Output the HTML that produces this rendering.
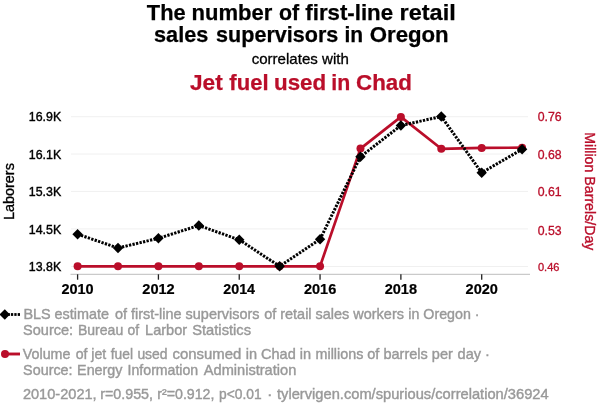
<!DOCTYPE html><html><head><meta charset="utf-8"><style>html,body{margin:0;padding:0;background:#fff}svg{display:block;will-change:transform}text{font-family:"Liberation Sans",sans-serif}</style></head><body>
<svg width="600" height="414" viewBox="0 0 600 414">
<rect width="600" height="414" fill="#fff"/>
<line x1="71" x2="528" y1="116.7" y2="116.7" stroke="#f0f0f0" stroke-width="1"/>
<line x1="71" x2="528" y1="154.0" y2="154.0" stroke="#f0f0f0" stroke-width="1"/>
<line x1="71" x2="528" y1="191.4" y2="191.4" stroke="#f0f0f0" stroke-width="1"/>
<line x1="71" x2="528" y1="228.9" y2="228.9" stroke="#f0f0f0" stroke-width="1"/>
<line x1="71" x2="528" y1="266.5" y2="266.5" stroke="#f0f0f0" stroke-width="1"/>
<line x1="70.5" x2="530" y1="274.3" y2="274.3" stroke="#bdbdbd" stroke-width="1"/>
<line x1="77.6" x2="77.6" y1="274.3" y2="279.7" stroke="#222" stroke-width="1.3"/>
<line x1="158.42" x2="158.42" y1="274.3" y2="279.7" stroke="#222" stroke-width="1.3"/>
<line x1="239.24" x2="239.24" y1="274.3" y2="279.7" stroke="#222" stroke-width="1.3"/>
<line x1="320.06" x2="320.06" y1="274.3" y2="279.7" stroke="#222" stroke-width="1.3"/>
<line x1="400.88" x2="400.88" y1="274.3" y2="279.7" stroke="#222" stroke-width="1.3"/>
<line x1="481.7" x2="481.7" y1="274.3" y2="279.7" stroke="#222" stroke-width="1.3"/>
<text id="t1_0" x="146.85" y="20.4" font-size="22.2" font-weight="bold" fill="#000" stroke="#000" stroke-width="0.25" textLength="38.84" lengthAdjust="spacingAndGlyphs">The</text>
<text id="t1_1" x="191.61" y="20.4" font-size="22.2" font-weight="bold" fill="#000" stroke="#000" stroke-width="0.25" textLength="80.80" lengthAdjust="spacingAndGlyphs">number</text>
<text id="t1_2" x="279.09" y="20.4" font-size="22.2" font-weight="bold" fill="#000" stroke="#000" stroke-width="0.25" textLength="20.15" lengthAdjust="spacingAndGlyphs">of</text>
<text id="t1_3" x="305.32" y="20.4" font-size="22.2" font-weight="bold" fill="#000" stroke="#000" stroke-width="0.25" textLength="87.76" lengthAdjust="spacingAndGlyphs">first-line</text>
<text id="t1_4" x="399.58" y="20.4" font-size="22.2" font-weight="bold" fill="#000" stroke="#000" stroke-width="0.25" textLength="56.14" lengthAdjust="spacingAndGlyphs">retail</text>
<text id="t2_0" x="154.09" y="42.0" font-size="22.2" font-weight="bold" fill="#000" stroke="#000" stroke-width="0.25" textLength="54.21" lengthAdjust="spacingAndGlyphs">sales</text>
<text id="t2_1" x="216.07" y="42.0" font-size="22.2" font-weight="bold" fill="#000" stroke="#000" stroke-width="0.25" textLength="122.23" lengthAdjust="spacingAndGlyphs">supervisors</text>
<text id="t2_2" x="344.53" y="42.0" font-size="22.2" font-weight="bold" fill="#000" stroke="#000" stroke-width="0.25" textLength="18.65" lengthAdjust="spacingAndGlyphs">in</text>
<text id="t2_3" x="369.73" y="42.0" font-size="22.2" font-weight="bold" fill="#000" stroke="#000" stroke-width="0.25" textLength="78.98" lengthAdjust="spacingAndGlyphs">Oregon</text>
<text id="corr" x="251.67" y="63.6" font-size="14.8" font-weight="normal" fill="#000" stroke="#000" stroke-width="0.3" textLength="97.16" lengthAdjust="spacingAndGlyphs">correlates with</text>
<text id="jet_0" x="189.99" y="90.4" font-size="22" font-weight="bold" fill="#ba0e2a" stroke="#ba0e2a" stroke-width="0.25" textLength="32.71" lengthAdjust="spacingAndGlyphs">Jet</text>
<text id="jet_1" x="229.38" y="90.4" font-size="22" font-weight="bold" fill="#ba0e2a" stroke="#ba0e2a" stroke-width="0.25" textLength="39.21" lengthAdjust="spacingAndGlyphs">fuel</text>
<text id="jet_2" x="273.99" y="90.4" font-size="22" font-weight="bold" fill="#ba0e2a" stroke="#ba0e2a" stroke-width="0.25" textLength="52.16" lengthAdjust="spacingAndGlyphs">used</text>
<text id="jet_3" x="331.35" y="90.4" font-size="22" font-weight="bold" fill="#ba0e2a" stroke="#ba0e2a" stroke-width="0.25" textLength="18.94" lengthAdjust="spacingAndGlyphs">in</text>
<text id="jet_4" x="356.07" y="90.4" font-size="22" font-weight="bold" fill="#ba0e2a" stroke="#ba0e2a" stroke-width="0.25" textLength="55.79" lengthAdjust="spacingAndGlyphs">Chad</text>
<text id="leg1_0" x="23.40" y="319.4" font-size="14.5" font-weight="normal" fill="#999999" stroke="#999999" stroke-width="0.4" textLength="85.66" lengthAdjust="spacingAndGlyphs">BLS estimate</text>
<text id="leg1_1" x="114.96" y="319.4" font-size="14.5" font-weight="normal" fill="#999999" stroke="#999999" stroke-width="0.4" textLength="144.51" lengthAdjust="spacingAndGlyphs">of first-line supervisors</text>
<text id="leg1_2" x="264.19" y="319.4" font-size="14.5" font-weight="normal" fill="#999999" stroke="#999999" stroke-width="0.4" textLength="139.73" lengthAdjust="spacingAndGlyphs">of retail sales workers</text>
<text id="leg1_3" x="408.33" y="319.4" font-size="14.5" font-weight="normal" fill="#999999" stroke="#999999" stroke-width="0.4" textLength="71.21" lengthAdjust="spacingAndGlyphs">in Oregon ·</text>
<text id="leg2_0" x="23.12" y="335.4" font-size="14.5" font-weight="normal" fill="#999999" stroke="#999999" stroke-width="0.4" textLength="50.05" lengthAdjust="spacingAndGlyphs">Source:</text>
<text id="leg2_1" x="77.95" y="335.4" font-size="14.5" font-weight="normal" fill="#999999" stroke="#999999" stroke-width="0.4" textLength="45.28" lengthAdjust="spacingAndGlyphs">Bureau</text>
<text id="leg2_2" x="127.47" y="335.4" font-size="14.5" font-weight="normal" fill="#999999" stroke="#999999" stroke-width="0.4" textLength="11.58" lengthAdjust="spacingAndGlyphs">of</text>
<text id="leg2_3" x="145.10" y="335.4" font-size="14.5" font-weight="normal" fill="#999999" stroke="#999999" stroke-width="0.4" textLength="42.05" lengthAdjust="spacingAndGlyphs">Larbor</text>
<text id="leg2_4" x="192.19" y="335.4" font-size="14.5" font-weight="normal" fill="#999999" stroke="#999999" stroke-width="0.4" textLength="58.89" lengthAdjust="spacingAndGlyphs">Statistics</text>
<text id="leg3_0" x="22.81" y="359.3" font-size="14.5" font-weight="normal" fill="#999999" stroke="#999999" stroke-width="0.4" textLength="47.67" lengthAdjust="spacingAndGlyphs">Volume</text>
<text id="leg3_1" x="75.64" y="359.3" font-size="14.5" font-weight="normal" fill="#999999" stroke="#999999" stroke-width="0.4" textLength="30.58" lengthAdjust="spacingAndGlyphs">of jet</text>
<text id="leg3_2" x="110.80" y="359.3" font-size="14.5" font-weight="normal" fill="#999999" stroke="#999999" stroke-width="0.4" textLength="22.22" lengthAdjust="spacingAndGlyphs">fuel</text>
<text id="leg3_3" x="137.38" y="359.3" font-size="14.5" font-weight="normal" fill="#999999" stroke="#999999" stroke-width="0.4" textLength="30.18" lengthAdjust="spacingAndGlyphs">used</text>
<text id="leg3_4" x="172.51" y="359.3" font-size="14.5" font-weight="normal" fill="#999999" stroke="#999999" stroke-width="0.4" textLength="68.80" lengthAdjust="spacingAndGlyphs">consumed</text>
<text id="leg3_5" x="245.66" y="359.3" font-size="14.5" font-weight="normal" fill="#999999" stroke="#999999" stroke-width="0.4" textLength="65.42" lengthAdjust="spacingAndGlyphs">in Chad in</text>
<text id="leg3_6" x="315.62" y="359.3" font-size="14.5" font-weight="normal" fill="#999999" stroke="#999999" stroke-width="0.4" textLength="47.67" lengthAdjust="spacingAndGlyphs">millions</text>
<text id="leg3_7" x="367.31" y="359.3" font-size="14.5" font-weight="normal" fill="#999999" stroke="#999999" stroke-width="0.4" textLength="85.55" lengthAdjust="spacingAndGlyphs">of barrels per</text>
<text id="leg3_8" x="457.58" y="359.3" font-size="14.5" font-weight="normal" fill="#999999" stroke="#999999" stroke-width="0.4" textLength="32.38" lengthAdjust="spacingAndGlyphs">day ·</text>
<text id="leg4_0" x="23.12" y="375.3" font-size="14.5" font-weight="normal" fill="#999999" stroke="#999999" stroke-width="0.4" textLength="49.44" lengthAdjust="spacingAndGlyphs">Source:</text>
<text id="leg4_1" x="77.12" y="375.3" font-size="14.5" font-weight="normal" fill="#999999" stroke="#999999" stroke-width="0.4" textLength="45.36" lengthAdjust="spacingAndGlyphs">Energy</text>
<text id="leg4_2" x="127.58" y="375.3" font-size="14.5" font-weight="normal" fill="#999999" stroke="#999999" stroke-width="0.4" textLength="70.65" lengthAdjust="spacingAndGlyphs">Information</text>
<text id="leg4_3" x="203.80" y="375.3" font-size="14.5" font-weight="normal" fill="#999999" stroke="#999999" stroke-width="0.4" textLength="92.47" lengthAdjust="spacingAndGlyphs">Administration</text>
<text id="foot_0" x="22.93" y="398.5" font-size="14.5" font-weight="normal" fill="#999999" stroke="#999999" stroke-width="0.4" textLength="73.71" lengthAdjust="spacingAndGlyphs">2010-2021,</text>
<text id="foot_1" x="100.24" y="398.5" font-size="14.5" font-weight="normal" fill="#999999" stroke="#999999" stroke-width="0.4" textLength="52.79" lengthAdjust="spacingAndGlyphs">r=0.955,</text>
<text id="foot_2" x="157.28" y="398.5" font-size="14.5" font-weight="normal" fill="#999999" stroke="#999999" stroke-width="0.4" textLength="57.18" lengthAdjust="spacingAndGlyphs">r²=0.912,</text>
<text id="foot_3" x="219.00" y="398.5" font-size="14.5" font-weight="normal" fill="#999999" stroke="#999999" stroke-width="0.4" textLength="42.56" lengthAdjust="spacingAndGlyphs">p&lt;0.01</text>
<text id="foot_4" x="266.90" y="398.5" font-size="14.5" font-weight="normal" fill="#999999" stroke="#999999" stroke-width="0.4" textLength="5.52" lengthAdjust="spacingAndGlyphs">·</text>
<text id="foot_5" x="277.02" y="398.5" font-size="14.5" font-weight="normal" fill="#999999" stroke="#999999" stroke-width="0.4" textLength="271.64" lengthAdjust="spacingAndGlyphs">tylervigen.com/spurious/correlation/36924</text>
<text id="l16.9K" x="28.84" y="121.2" font-size="12.6" font-weight="normal" fill="#000" stroke="#000" stroke-width="0.4" textLength="32.37" lengthAdjust="spacingAndGlyphs">16.9K</text>
<text id="l16.1K" x="28.84" y="158.5" font-size="12.6" font-weight="normal" fill="#000" stroke="#000" stroke-width="0.4" textLength="32.37" lengthAdjust="spacingAndGlyphs">16.1K</text>
<text id="l15.3K" x="28.84" y="195.9" font-size="12.6" font-weight="normal" fill="#000" stroke="#000" stroke-width="0.4" textLength="32.37" lengthAdjust="spacingAndGlyphs">15.3K</text>
<text id="l14.5K" x="28.84" y="234.4" font-size="12.6" font-weight="normal" fill="#000" stroke="#000" stroke-width="0.4" textLength="32.37" lengthAdjust="spacingAndGlyphs">14.5K</text>
<text id="l13.8K" x="28.84" y="271.0" font-size="12.6" font-weight="normal" fill="#000" stroke="#000" stroke-width="0.4" textLength="32.37" lengthAdjust="spacingAndGlyphs">13.8K</text>
<text id="r0.76" x="537.72" y="121.2" font-size="12.4" font-weight="normal" fill="#ba0e2a" stroke="#ba0e2a" stroke-width="0.3" textLength="23.99" lengthAdjust="spacingAndGlyphs">0.76</text>
<text id="r0.68" x="537.72" y="159.4" font-size="12.4" font-weight="normal" fill="#ba0e2a" stroke="#ba0e2a" stroke-width="0.3" textLength="23.86" lengthAdjust="spacingAndGlyphs">0.68</text>
<text id="r0.61" x="537.72" y="196.4" font-size="12.4" font-weight="normal" fill="#ba0e2a" stroke="#ba0e2a" stroke-width="0.3" textLength="23.99" lengthAdjust="spacingAndGlyphs">0.61</text>
<text id="r0.53" x="537.73" y="234.5" font-size="12.4" font-weight="normal" fill="#ba0e2a" stroke="#ba0e2a" stroke-width="0.3" textLength="23.91" lengthAdjust="spacingAndGlyphs">0.53</text>
<text id="r0.46" x="537.94" y="270.9" font-size="11.2" font-weight="normal" fill="#ba0e2a" stroke="#ba0e2a" stroke-width="0.3" textLength="21.55" lengthAdjust="spacingAndGlyphs">0.46</text>
<text id="x0" x="61.41" y="294.0" font-size="14" font-weight="bold" fill="#000" stroke="#000" stroke-width="0.2" textLength="32.26" lengthAdjust="spacingAndGlyphs">2010</text>
<text id="x2" x="142.31" y="294.0" font-size="14" font-weight="bold" fill="#000" stroke="#000" stroke-width="0.2" textLength="32.45" lengthAdjust="spacingAndGlyphs">2012</text>
<text id="x4" x="223.24" y="294.0" font-size="14" font-weight="bold" fill="#000" stroke="#000" stroke-width="0.2" textLength="31.81" lengthAdjust="spacingAndGlyphs">2014</text>
<text id="x6" x="304.00" y="294.0" font-size="14" font-weight="bold" fill="#000" stroke="#000" stroke-width="0.2" textLength="32.25" lengthAdjust="spacingAndGlyphs">2016</text>
<text id="x8" x="384.67" y="294.0" font-size="14" font-weight="bold" fill="#000" stroke="#000" stroke-width="0.2" textLength="32.34" lengthAdjust="spacingAndGlyphs">2018</text>
<text id="x10" x="465.60" y="294.0" font-size="14" font-weight="bold" fill="#000" stroke="#000" stroke-width="0.2" textLength="32.38" lengthAdjust="spacingAndGlyphs">2020</text>
<text transform="translate(14.2,191.6) rotate(-90)" font-size="14.5" text-anchor="middle" textLength="57" lengthAdjust="spacingAndGlyphs" fill="#000" stroke="#000" stroke-width="0.35">Laborers</text>
<text transform="translate(584.6,191.3) rotate(90)" font-size="14.5" text-anchor="middle" textLength="118.2" lengthAdjust="spacingAndGlyphs" fill="#ba0e2a" stroke="#ba0e2a" stroke-width="0.35">Million Barrels/Day</text>
<polyline points="77.6,266.3 118.01,266.3 158.42,266.3 198.83,266.3 239.24,266.3 279.65,266.3 320.06,266.3 360.47,148.6 400.88,116.9 441.29,148.8 481.7,147.9 522.11,147.7" fill="none" stroke="#ba0e2a" stroke-width="2.7" stroke-linejoin="round"/>
<circle cx="77.6" cy="266.3" r="4" fill="#ba0e2a"/>
<circle cx="118.01" cy="266.3" r="4" fill="#ba0e2a"/>
<circle cx="158.42" cy="266.3" r="4" fill="#ba0e2a"/>
<circle cx="198.83" cy="266.3" r="4" fill="#ba0e2a"/>
<circle cx="239.24" cy="266.3" r="4" fill="#ba0e2a"/>
<circle cx="279.65" cy="266.3" r="4" fill="#ba0e2a"/>
<circle cx="320.06" cy="266.3" r="4" fill="#ba0e2a"/>
<circle cx="360.47" cy="148.6" r="4" fill="#ba0e2a"/>
<circle cx="400.88" cy="116.9" r="4" fill="#ba0e2a"/>
<circle cx="441.29" cy="148.8" r="4" fill="#ba0e2a"/>
<circle cx="481.7" cy="147.9" r="4" fill="#ba0e2a"/>
<circle cx="522.11" cy="147.7" r="4" fill="#ba0e2a"/>
<polyline points="77.6,234.2 118.01,248.0 158.42,238.3 198.83,225.5 239.24,239.8 279.65,266.3 320.06,239.3 360.47,156.7 400.88,125.5 441.29,116.5 481.7,172.7 522.11,149.3" fill="none" stroke="#000" stroke-width="3" stroke-dasharray="2.3,1.3" stroke-linejoin="round"/>
<path d="M72.39999999999999,234.2 L77.6,229.0 L82.8,234.2 L77.6,239.39999999999998 Z" fill="#000"/>
<path d="M112.81,248.0 L118.01,242.8 L123.21000000000001,248.0 L118.01,253.2 Z" fill="#000"/>
<path d="M153.22,238.3 L158.42,233.10000000000002 L163.61999999999998,238.3 L158.42,243.5 Z" fill="#000"/>
<path d="M193.63000000000002,225.5 L198.83,220.3 L204.03,225.5 L198.83,230.7 Z" fill="#000"/>
<path d="M234.04000000000002,239.8 L239.24,234.60000000000002 L244.44,239.8 L239.24,245.0 Z" fill="#000"/>
<path d="M274.45,266.3 L279.65,261.1 L284.84999999999997,266.3 L279.65,271.5 Z" fill="#000"/>
<path d="M314.86,239.3 L320.06,234.10000000000002 L325.26,239.3 L320.06,244.5 Z" fill="#000"/>
<path d="M355.27000000000004,156.7 L360.47,151.5 L365.67,156.7 L360.47,161.89999999999998 Z" fill="#000"/>
<path d="M395.68,125.5 L400.88,120.3 L406.08,125.5 L400.88,130.7 Z" fill="#000"/>
<path d="M436.09000000000003,116.5 L441.29,111.3 L446.49,116.5 L441.29,121.7 Z" fill="#000"/>
<path d="M476.5,172.7 L481.7,167.5 L486.9,172.7 L481.7,177.89999999999998 Z" fill="#000"/>
<path d="M516.91,149.3 L522.11,144.10000000000002 L527.3100000000001,149.3 L522.11,154.5 Z" fill="#000"/>
<rect x="7.6" y="313.1" width="2.3" height="2.8" fill="#000"/>
<rect x="10.9" y="313.1" width="2.3" height="2.8" fill="#000"/>
<rect x="14.3" y="313.1" width="2.3" height="2.8" fill="#000"/>
<rect x="17.7" y="313.1" width="2.3" height="2.8" fill="#000"/>
<path d="M-0.4,314.5 L4.8,309.3 L10,314.5 L4.8,319.7 Z" fill="#000"/>
<line x1="5" x2="20" y1="354" y2="354" stroke="#ba0e2a" stroke-width="2.9"/>
<circle cx="5" cy="354" r="4" fill="#ba0e2a"/>
</svg></body></html>
